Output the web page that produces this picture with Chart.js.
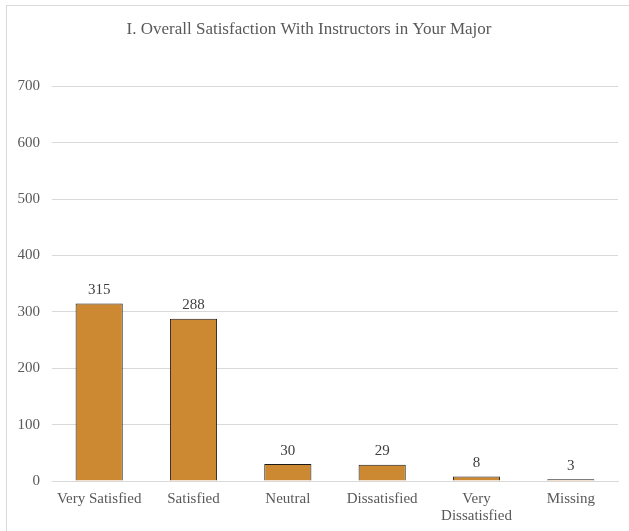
<!DOCTYPE html>
<html>
<head>
<meta charset="utf-8">
<script src="https://cdn.jsdelivr.net/npm/chart.js@4/dist/chart.umd.min.js"></script>
<style>
  body { margin: 0; background: #fff; }
  #wrap { position: relative; width: 629px; height: 531px; overflow: hidden; }
  #frame { position: absolute; left: 6px; top: 5px; width: 640px; height: 540px; border: 1px solid #d9d9d9; }
  canvas { position: absolute; left: 0; top: 0; }
</style>
</head>
<body>
<div id="wrap">
  <div id="frame"></div>
  <canvas id="chart" width="629" height="531"></canvas>
</div>
<script>
// chart data
let categories = ['Very Satisfied', 'Satisfied', 'Neutral', 'Dissatisfied', ['Very', 'Dissatisfied'], 'Missing']
let counts = [315, 288, 30, 29, 8, 3]
let yTicks = [0, 100, 200, 300, 400, 500, 600, 700]
let chartTitle = 'I. Overall Satisfaction With Instructors in Your Major'

let serif = "'Liberation Serif', 'Times New Roman', serif"

// writes the value above each bar
const valueLabels = {
    id: 'valueLabels',
    afterDatasetsDraw(chart) {
        let ctx = chart.ctx
        ctx.save()
        ctx.font = '15px ' + serif
        ctx.fillStyle = '#404040'
        ctx.textAlign = 'center'
        ctx.textBaseline = 'bottom'
        chart.getDatasetMeta(0).data.forEach((bar, i) => {
            ctx.fillText(counts[i], bar.x, bar.y - 6)
        })
        ctx.restore()
    }
}

var chart = new Chart(document.getElementById('chart').getContext('2d'), {
    type: 'bar',
    data: {
        labels: categories,
        datasets: [{
            data: counts,
            backgroundColor: '#CD8832',
            borderColor: '#1a1a1a',
            borderWidth: 1,
            categoryPercentage: 1,
            barPercentage: 0.5
        }]
    },
    options: {
        responsive: false,
        animation: false,
        layout: { padding: { left: 0, right: 11, top: 0, bottom: 0 } },
        plugins: {
            legend: { display: false },
            tooltip: { enabled: false },
            title: {
                display: true,
                text: chartTitle,
                color: '#595959',
                font: { family: serif, size: 17, weight: 'normal' },
                padding: { top: 19, bottom: 47 }
            }
        },
        scales: {
            x: {
                grid: { display: false },
                border: { color: '#d9d9d9' },
                ticks: { color: '#595959', font: { family: serif, size: 15, lineHeight: 1.15 }, padding: 1, maxRotation: 0, autoSkip: false },
                afterFit: scale => { scale.height = 50 }
            },
            y: {
                min: 0,
                max: 700,
                afterBuildTicks: scale => { scale.ticks = yTicks.map(v => ({ value: v })) },
                grid: { color: '#d9d9d9', drawTicks: false },
                border: { display: false },
                ticks: { color: '#595959', font: { family: serif, size: 15 }, padding: 12 },
                afterFit: scale => { scale.width = 52 }
            }
        }
    },
    plugins: [valueLabels]
})
</script>
</body>
</html>
